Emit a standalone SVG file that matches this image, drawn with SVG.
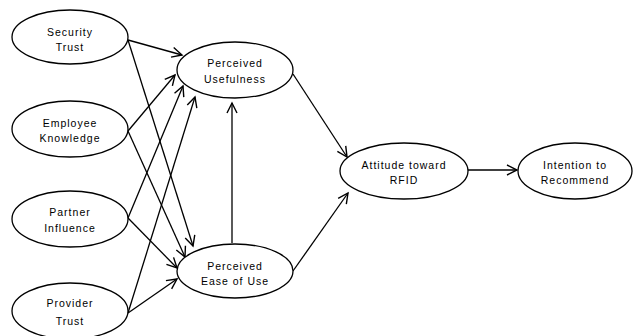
<svg xmlns="http://www.w3.org/2000/svg" width="633" height="336" viewBox="0 0 633 336">
<style>
.n ellipse{fill:#fff;stroke:#000;stroke-width:1.3}
.n text{font-family:"Liberation Sans",Arial,sans-serif;font-size:10.5px;letter-spacing:1px;text-anchor:middle;fill:#000}
#connectors line{stroke:#000;stroke-width:1.3;fill:none;marker-end:url(#arr)}
</style>
<defs>
<marker id="arr" markerUnits="userSpaceOnUse" markerWidth="14" markerHeight="14" refX="11" refY="6" orient="auto" viewBox="0 0 14 12">
<path d="M1,1 L11,6 L1,11" fill="none" stroke="#000" stroke-width="1.4"/>
</marker>
</defs>
<rect width="633" height="336" fill="#fff"/>
<g id="connectors">
<line x1="128" y1="40" x2="182" y2="55"/>
<line x1="128" y1="40" x2="193" y2="246"/>
<line x1="128" y1="131" x2="175" y2="75"/>
<line x1="128" y1="131" x2="185" y2="257"/>
<line x1="128" y1="218" x2="183" y2="86"/>
<line x1="128" y1="218" x2="177" y2="268"/>
<line x1="128" y1="313" x2="195" y2="97"/>
<line x1="128" y1="313" x2="177" y2="279"/>
<line x1="232" y1="243" x2="232" y2="103"/>
<line x1="293" y1="74" x2="347" y2="157"/>
<line x1="293" y1="271" x2="348" y2="193"/>
<line x1="468" y1="170" x2="517" y2="170"/>
</g>
<g id="security-trust" class="n"><ellipse cx="70" cy="37" rx="58" ry="27"/><text x="70" y="36">Security</text><text x="70" y="51">Trust</text></g>
<g id="employee-knowledge" class="n"><ellipse cx="70" cy="129" rx="58" ry="28"/><text x="70" y="127">Employee</text><text x="70" y="142">Knowledge</text></g>
<g id="partner-influence" class="n"><ellipse cx="70" cy="219" rx="58" ry="28"/><text x="70" y="216">Partner</text><text x="70" y="232">Influence</text></g>
<g id="provider-trust" class="n"><ellipse cx="70" cy="311" rx="58" ry="28"/><text x="70" y="307">Provider</text><text x="70" y="325">Trust</text></g>
<g id="perceived-usefulness" class="n"><ellipse cx="235" cy="70" rx="58" ry="28"/><text x="235" y="67">Perceived</text><text x="235" y="83">Usefulness</text></g>
<g id="perceived-ease" class="n"><ellipse cx="235" cy="271" rx="58" ry="27"/><text x="235" y="270">Perceived</text><text x="235" y="285">Ease of Use</text></g>
<g id="attitude" class="n"><ellipse cx="404" cy="171" rx="64" ry="28"/><text x="404" y="169">Attitude toward</text><text x="404" y="184">RFID</text></g>
<g id="intention" class="n"><ellipse cx="575" cy="171" rx="57" ry="28"/><text x="575" y="169">Intention to</text><text x="575" y="184">Recommend</text></g>
</svg>
